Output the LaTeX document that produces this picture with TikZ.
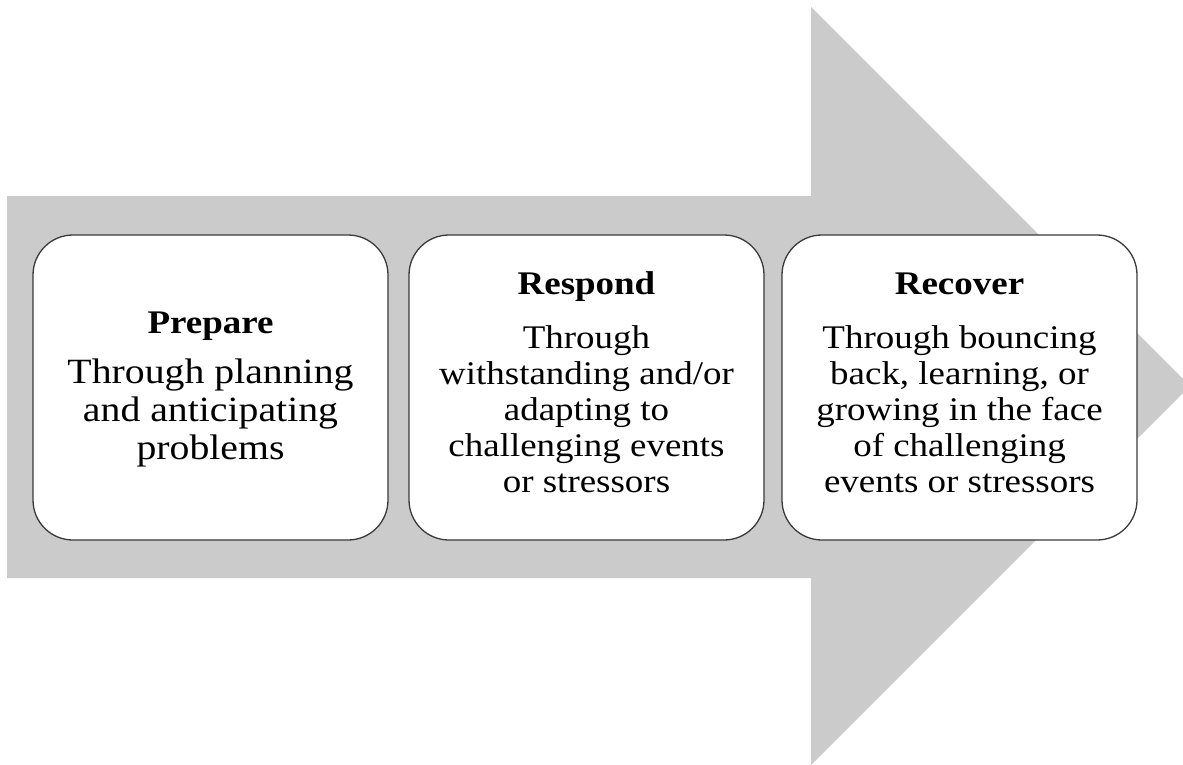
\documentclass[tikz,border=0pt]{standalone}
\usepackage{fontspec}
\setmainfont{Liberation Serif}[FakeStretch=1.12]
\definecolor{arrowgray}{HTML}{CBCBCB}
\definecolor{edgegray}{HTML}{3A3A3A}
\begin{document}
\begin{tikzpicture}[x=1pt,y=-1pt,
  stage/.style={draw=edgegray, line width=1.3pt, fill=white, rounded corners=40pt,
    minimum width=355pt, minimum height=305pt, inner sep=0pt},
  stagetitle/.style={anchor=base, inner sep=0pt,
    font=\fontsize{33}{36}\selectfont\bfseries},
  % anchor=base of a multi-line node sits on the baseline of its last line
  stagebody/.style={anchor=base, align=center, inner sep=0pt,
    font=\fontsize{33}{36}\selectfont},
  bigbody/.style={stagebody, font=\fontsize{35.5}{38}\selectfont}]
  \useasboundingbox (0,0) rectangle (1183,765);
  \begin{scope}
    \clip (0,0) rectangle (1183,765);
    % broad process arrow
    \fill[arrowgray] (7,196) -- (811,196) -- (811,7) -- (1190,386)
      -- (811,765) -- (811,578) -- (7,578) -- cycle;
  \end{scope}
  % three stage boxes
  \node[stage] (prepare) at (210.5,387.5) {};
  \node[stage] (respond) at (586.5,387.5) {};
  \node[stage] (recover) at (959.5,387.5) {};
  % stage titles
  \node[stagetitle] (prepare-title) at (210.5,333) {Prepare};
  \node[stagetitle] (respond-title) at (586.5,294) {Respond};
  \node[stagetitle] (recover-title) at (959.5,294) {Recover};
  % stage descriptions
  \node[bigbody] (prepare-body) at (210.5,459)
    {Through planning\\and anticipating\\problems};
  \node[stagebody] (respond-body) at (586.5,492)
    {Through\\withstanding and/or\\adapting to\\challenging events\\or stressors};
  \node[stagebody] (recover-body) at (959.5,492)
    {Through bouncing\\back, learning, or\\growing in the face\\of challenging\\events or stressors};
\end{tikzpicture}
\end{document}
